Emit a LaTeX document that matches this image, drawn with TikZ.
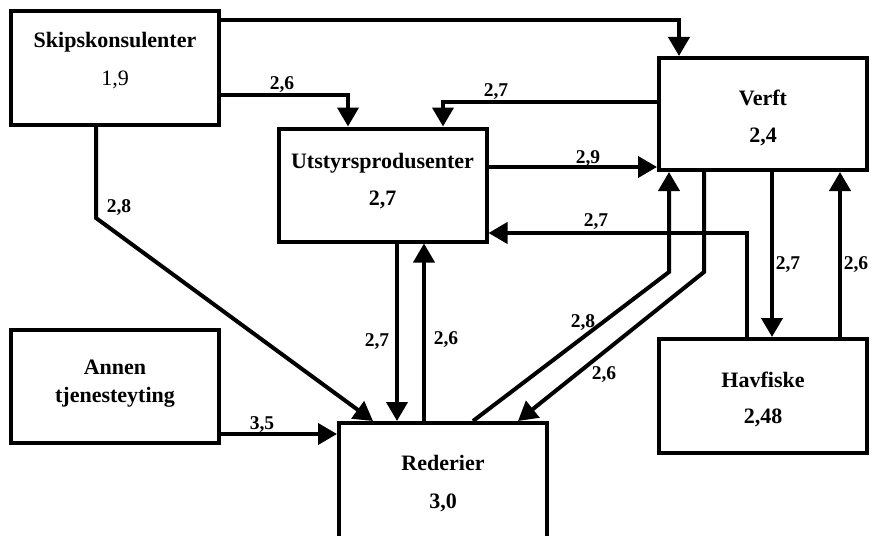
\documentclass[tikz,border=0pt]{standalone}
\usepackage{fontspec}
\setmainfont{Liberation Serif}
\usetikzlibrary{arrows.meta}
\newcommand\boxfont{\fontsize{22}{28}\selectfont\bfseries}
\newcommand\numfont{\fontsize{22}{28}\selectfont}
\newcommand\labfont{\fontsize{19.5}{22}\selectfont\bfseries}
\tikzset{
  box/.style={draw, line width=4pt, minimum width=208pt, minimum height=113pt, inner sep=0pt},
  plain/.style={line width=4pt},
  conn/.style={line width=4pt, -{Triangle[width=21pt,length=19pt]}},
  lab/.style={font=\labfont, inner sep=0pt},
  btxt/.style={font=\boxfont, inner sep=0pt, align=center},
}
\begin{document}
\begin{tikzpicture}[x=1pt,y=-1pt]
\clip (0,0) rectangle (872,535);
\fill[white] (0,0) rectangle (872,535);
% boxes
\node[box] (skip) at (115,68) {};
\node[box] (utst) at (382.5,185) {};
\node[box, minimum height=112pt] (verft) at (763,114) {};
\node[box] (annen) at (115,386.5) {};
\node[box, minimum height=140pt] (rederi) at (443,493) {};
\node[box, minimum height=114pt] (hav) at (763,396) {};
% box texts
\node[btxt] (tskip) at (115,42) {Skipskonsulenter};
\node[btxt, font=\numfont] (nskip) at (115,80) {1,9};
\node[btxt] (tutst) at (382.5,163) {Utstyrsprodusenter};
\node[btxt] (nutst) at (382.5,200) {2,7};
\node[btxt] (tverft) at (763,98) {Verft};
\node[btxt] (nverft) at (763,137) {2,4};
\node[btxt] (tannen) at (115,384) {Annen\\tjenesteyting};
\node[btxt] (trederi) at (443,463) {Rederier};
\node[btxt] (nrederi) at (443,503) {3,0};
\node[btxt] (thav) at (763,380) {Havfiske};
\node[btxt] (nhav) at (763,418) {2,48};
% connectors
\draw[conn] (skip.east |- 0,20) -| (679,0 |- verft.north);
\draw[conn] (skip.east |- 0,95) -| (348,0 |- utst.north);
\draw[conn] (96,0 |- skip.south) -- (96,218) -- (373,0 |- rederi.north);
\draw[conn] (verft.west |- 0,102) -| (443,0 |- utst.north);
\draw[conn] (utst.east |- 0,167) -- (verft.west |- 0,167);
\draw[conn] (747,0 |- hav.north) |- (utst.east |- 0,233);
\draw[conn] (772,0 |- verft.south) -- (772,0 |- hav.north);
\draw[conn] (840,0 |- hav.north) -- (840,0 |- verft.south);
\draw[conn] (397,0 |- utst.south) -- (397,0 |- rederi.north);
\draw[conn] (424,0 |- rederi.north) -- (424,0 |- utst.south);
\draw[conn] (473,0 |- rederi.north) -- (669,272) -- (669,0 |- verft.south);
\draw[conn] (704,0 |- verft.south) -- (704,272) -- (518,0 |- rederi.north);
\draw[conn] (annen.east |- 0,434) -- (rederi.west |- 0,434);
% labels
\node[lab] (l1) at (282,85) {2,6};
\node[lab] (l2) at (119,208) {2,8};
\node[lab] (l3) at (496,92) {2,7};
\node[lab] (l4) at (588,159) {2,9};
\node[lab] (l5) at (596,222) {2,7};
\node[lab] (l6) at (788,265) {2,7};
\node[lab] (l7) at (856,265) {2,6};
\node[lab] (l8) at (377,342) {2,7};
\node[lab] (l9) at (446,340) {2,6};
\node[lab] (l10) at (583,323) {2,8};
\node[lab] (l11) at (604,375) {2,6};
\node[lab] (l12) at (262,425) {3,5};
\end{tikzpicture}
\end{document}
